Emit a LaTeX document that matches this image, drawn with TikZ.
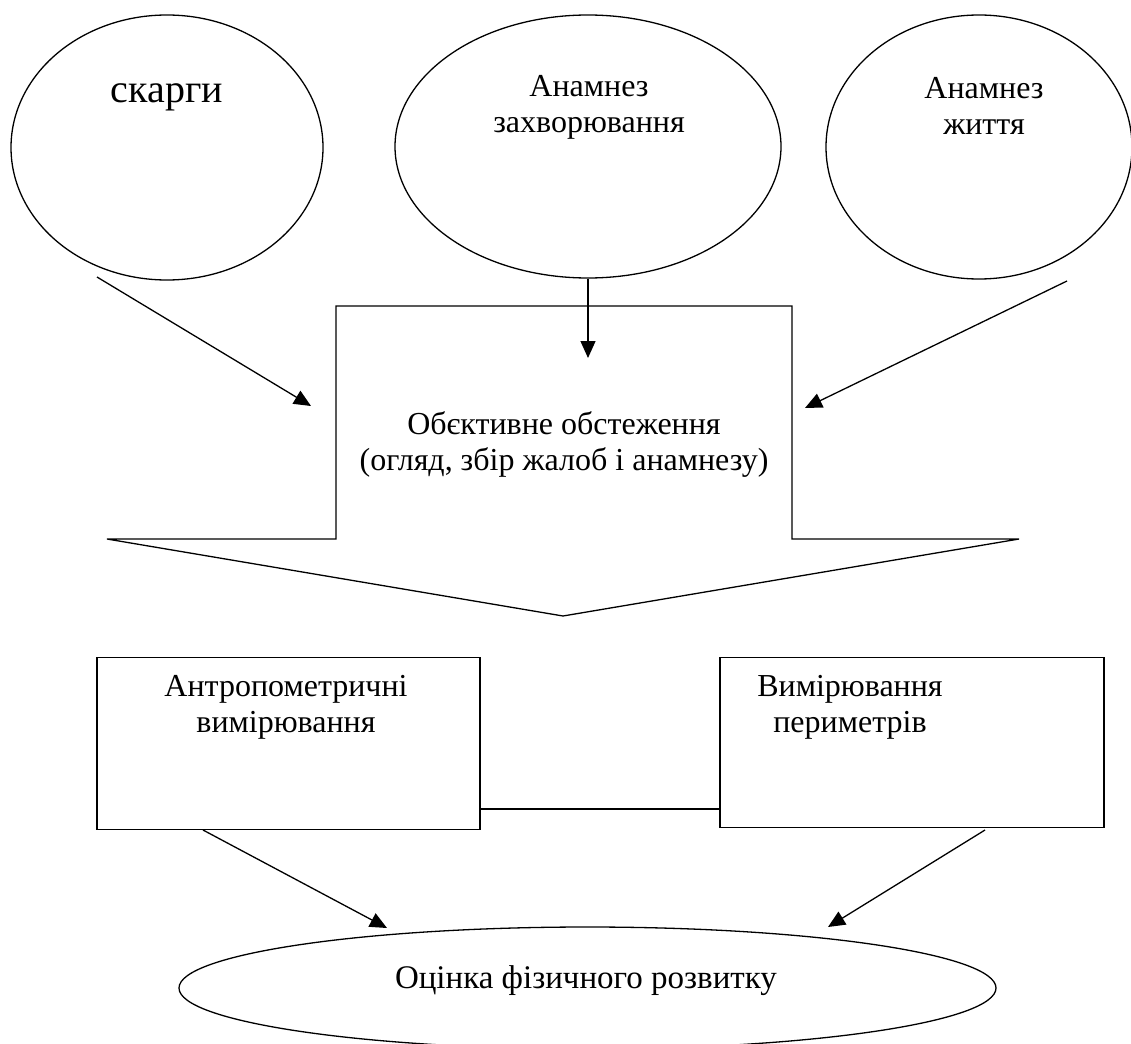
\documentclass[tikz,border=0pt]{standalone}
\usepackage{fontspec}
\setmainfont{Liberation Serif}
\usetikzlibrary{shapes.geometric,arrows.meta}
\begin{document}
\begin{tikzpicture}[x=1pt,y=-1pt,
  lw/.style={line width=1.3pt},
  oval/.style={lw,draw,ellipse,inner sep=0pt},
  txt/.style={font=\fontsize{32}{36}\selectfont,align=center,inner sep=0pt},
  bigtxt/.style={font=\fontsize{40}{44}\selectfont,inner sep=0pt},
  box/.style={lw,draw,inner sep=0pt},
  arr/.style={lw,-{Triangle[length=17pt,width=15pt]}}]
\useasboundingbox (0,0) rectangle (1131,1043);
% top ellipses
\node[oval,minimum width=312pt,minimum height=265pt] (e1) at (167,147.5) {};
\node[oval,minimum width=386pt,minimum height=263pt] (e2) at (588,146.5) {};
\node[oval,minimum width=306pt,minimum height=264pt] (e3) at (979,147) {};
\node[bigtxt] (t1) at (167,97) {скарги};
\node[txt] (t2) at (589,107) {Анамнез\\захворювання};
\node[txt] (t3) at (984,106) {Анамнез\\життя};
% big arrow shape
\coordinate (bA) at (336,306);
\coordinate (bB) at (792,306);
\coordinate (bC) at (792,539);
\coordinate (bD) at (1019,539);
\coordinate (bE) at (563,616);
\coordinate (bF) at (107,539);
\coordinate (bG) at (336,539);
\draw[lw,line join=miter] (bA) -- (bB) -- (bC) -- (bD) -- (bE) -- (bF) -- (bG) -- cycle;
\node[txt] (obj) at (564,444) {Обєктивне обстеження\\(огляд, збір жалоб і анамнезу)};
% arrows into the big shape
\coordinate (a1s) at (97,277);
\coordinate (a1e) at (311,406);
\coordinate (a2e) at (588,358);
\coordinate (a3s) at (1067,281);
\coordinate (a3e) at (805,408);
\draw[arr] (a1s) -- (a1e);
\draw[arr] (e2.south) -- (a2e);
\draw[arr] (a3s) -- (a3e);
% lower boxes
\node[box,minimum width=383pt,minimum height=172pt] (b1) at (288.5,743.5) {};
\node[box,minimum width=384pt,minimum height=170pt] (b2) at (912,742.5) {};
\node[txt] (bt1) at (286,707) {Антропометричні\\вимірювання};
\node[txt] (bt2) at (850,707) {Вимірювання\\периметрів};
\draw[lw] (b1.east |- 0,809) coordinate (c1) -- (b2.west |- 0,809) coordinate (c2);
% bottom ellipse
\node[oval,minimum width=817pt,minimum height=122pt] (e4) at (587.5,988) {};
\node[font=\fontsize{33}{38}\selectfont,inner sep=0pt] (t4) at (586,981) {Оцінка фізичного розвитку};
\coordinate (d1s) at (203,830);
\coordinate (d1e) at (387,928);
\coordinate (d2s) at (985,830);
\coordinate (d2e) at (828,927);
\draw[arr] (d1s) -- (d1e);
\draw[arr] (d2s) -- (d2e);
\end{tikzpicture}
\end{document}
